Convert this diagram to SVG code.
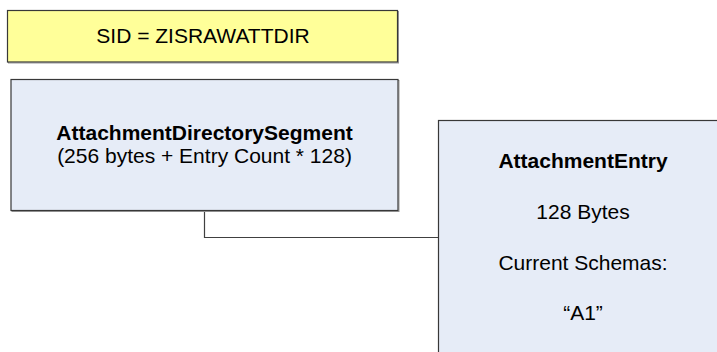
<svg xmlns="http://www.w3.org/2000/svg" width="717" height="352" viewBox="0 0 717 352">
  <style>
    .box { stroke: #383838; stroke-width: 1.2; }
    .shadow { fill: none; stroke: #9a9a9a; stroke-width: 1; }
    .sid { fill: #FFFF99; }
    .seg { fill: #E6ECF7; }
    .txt { font-family: "Liberation Sans", Arial, sans-serif; font-size: 21px; fill: #000; text-anchor: middle; }
    .b { font-weight: bold; }
    .conn { fill: none; stroke: #404040; stroke-width: 1.2; }
  </style>
  <rect width="717" height="352" fill="#ffffff"/>

  <!-- connector between the directory segment and its entry -->
  <g id="connectors">
    <polyline class="conn" points="204.5,211 204.5,237.5 438.5,237.5"/>
  </g>

  <g id="sid-header">
    <rect class="shadow" x="8.5" y="11.5" width="390" height="51.5"/>
    <rect class="box sid" x="7.5" y="10.5" width="390" height="51.5"/>
    <text class="txt" x="203" y="43">SID = ZISRAWATTDIR</text>
  </g>

  <g id="directory-segment">
    <rect class="shadow" x="12" y="80.5" width="387" height="131"/>
    <rect class="box seg" x="11" y="79.5" width="387" height="131"/>
    <text class="txt b" x="204.5" y="140">AttachmentDirectorySegment</text>
    <text class="txt" x="204.5" y="163">(256 bytes + Entry Count * 128)</text>
  </g>

  <g id="attachment-entry">
    <rect class="shadow" x="439.5" y="121.5" width="300" height="260"/>
    <rect class="box seg" x="438.5" y="120.5" width="300" height="260"/>
    <text class="txt b" x="583" y="168">AttachmentEntry</text>
    <text class="txt" x="583" y="219">128 Bytes</text>
    <text class="txt" x="583" y="270">Current Schemas:</text>
    <text class="txt" x="583" y="320">“A1”</text>
  </g>
</svg>
